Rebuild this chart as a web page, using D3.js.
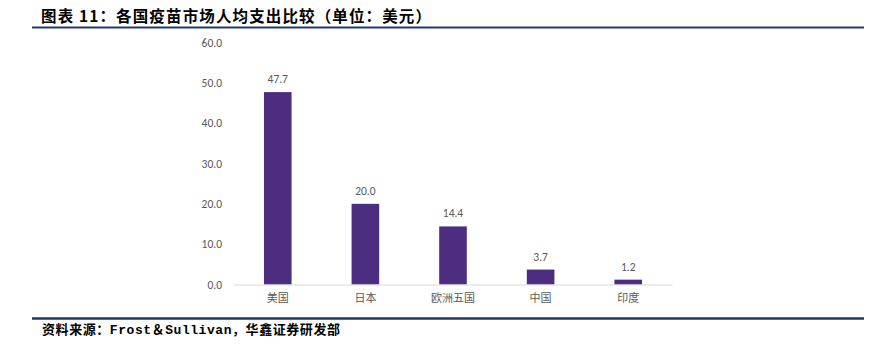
<!DOCTYPE html>
<html>
<head>
<meta charset="utf-8">
<script src="https://cdn.jsdelivr.net/npm/d3@7/dist/d3.min.js"></script>
<style>
  html, body { margin: 0; padding: 0; background: #fff; }
  svg { display: block; }
</style>
</head>
<body>
<svg id="chart" width="880" height="344"></svg>
<script>
// Per-capita vaccine market spending by country (USD)
const categories = ["美国", "日本", "欧洲五国", "中国", "印度"];
const values = [47.7, 20.0, 14.4, 3.7, 1.2];
const yTicks = [0, 10, 20, 30, 40, 50, 60];

const titleText = "图表 11：各国疫苗市场人均支出比较（单位：美元）";
const sourceText = "资料来源：Frost＆Sullivan，华鑫证券研发部";

const svg = d3.select("#chart");
const cjk = "'Noto Sans CJK SC', 'Microsoft YaHei', sans-serif";
const gray = "#595959";

// Header and footer rules
svg.append("text")
  .attr("x", 41).attr("y", 22)
  .attr("font-family", cjk).attr("font-weight", "bold")
  .attr("font-size", 15.5).attr("fill", "#000")
  .attr("textLength", 390).attr("lengthAdjust", "spacing")
  .text(titleText);

svg.append("line")
  .attr("x1", 32).attr("x2", 864).attr("y1", 27.5).attr("y2", 27.5)
  .attr("stroke", "#1F3864").attr("stroke-width", 2);

svg.append("line")
  .attr("x1", 32).attr("x2", 864).attr("y1", 318.5).attr("y2", 318.5)
  .attr("stroke", "#1F3864").attr("stroke-width", 2.5);

svg.append("text")
  .attr("x", 42).attr("y", 334)
  .attr("font-family", "'Liberation Mono', " + cjk).attr("font-weight", "bold")
  .attr("font-size", 13).attr("fill", "#000")
  .attr("textLength", 298).attr("lengthAdjust", "spacing")
  .text(sourceText);

// Plot area
const x = d3.scaleBand()
  .domain(categories)
  .range([234, 672])
  .paddingInner(0.685)
  .paddingOuter(0.342);

const y = d3.scaleLinear()
  .domain([0, 60])
  .range([284.5, 42.5]);

// Y axis labels (no axis line)
const yAxis = d3.axisLeft(y)
  .tickValues(yTicks)
  .tickFormat(d3.format(".1f"))
  .tickSize(0)
  .tickPadding(0);

const gy = svg.append("g")
  .attr("transform", "translate(222,0)")
  .call(yAxis);
gy.select(".domain").remove();
gy.selectAll("text")
  .attr("font-family", "Calibri, Carlito, 'Liberation Sans', sans-serif")
  .attr("font-size", 11.5).attr("fill", gray);

// Bars
svg.append("g").selectAll("rect")
  .data(values)
  .join("rect")
  .attr("x", (d, i) => x(categories[i]))
  .attr("width", x.bandwidth())
  .attr("y", d => y(d))
  .attr("height", d => y(0) - y(d))
  .attr("fill", "#4D2D7F");

// Value labels
svg.append("g").selectAll("text")
  .data(values)
  .join("text")
  .attr("x", (d, i) => x(categories[i]) + x.bandwidth() / 2)
  .attr("y", d => y(d) - 9)
  .attr("text-anchor", "middle")
  .attr("font-family", "Calibri, Carlito, 'Liberation Sans', sans-serif")
  .attr("font-size", 11.5).attr("fill", gray)
  .text(d => d.toFixed(1));

// X axis
const xAxis = d3.axisBottom(x).tickSize(0).tickPadding(10);
const gx = svg.append("g")
  .attr("transform", `translate(0,${y(0)})`)
  .call(xAxis);
gx.select(".domain").attr("stroke", "#D9D9D9").attr("stroke-width", 1);
gx.selectAll("text")
  .attr("font-family", cjk)
  .attr("font-size", 11).attr("fill", gray);
</script>
</body>
</html>
